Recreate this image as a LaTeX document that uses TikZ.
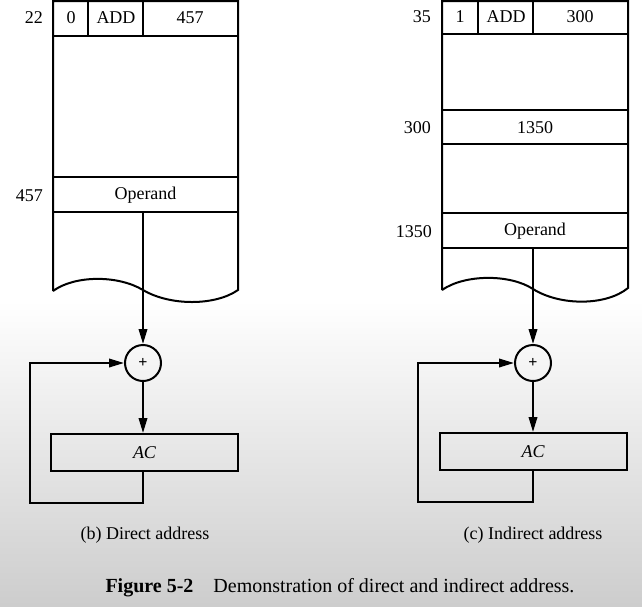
\documentclass[tikz,border=0pt]{standalone}
\usepackage{fontspec}
\setmainfont{Liberation Serif}
\usetikzlibrary{arrows.meta,calc}
\begin{document}
\begin{tikzpicture}[x=1pt,y=-1pt,
  ln/.style={line width=2pt},
  arr/.style={ln,-{Triangle[length=15pt,width=8.5pt]}},
  txt/.style={font=\fontsize{18}{21}\selectfont,inner sep=0pt},
  lbl/.style={font=\fontsize{18}{21}\selectfont,inner sep=0pt,anchor=east},
  sumc/.style={circle,ln,draw,minimum size=36pt,inner sep=0pt,font=\fontsize{16}{16}\selectfont\bfseries},
  acbox/.style={rectangle,ln,draw,minimum width=187pt,minimum height=37pt,inner sep=0pt,font=\fontsize{18}{21}\selectfont\itshape},
  captxt/.style={font=\fontsize{18}{21}\selectfont,inner sep=0pt}
]
\useasboundingbox (0,0) rectangle (642,606);
\fill[white] (0,0) rectangle (642,606);
\shade[top color=white,bottom color={rgb,255:red,205;green,205;blue,205}] (0,300) rectangle (642,606);

% ---------- Left: direct address ----------
\draw[ln] (53,291) -- (53,1) -- (238,1) -- (238,290)
  .. controls (215,306) and (170,306) .. (143,290)
  .. controls (118,275) and (75,275) .. (53,291);
\draw[ln] (53,36) -- (238,36);
\draw[ln] (88,1) -- (88,36);
\draw[ln] (143,1) -- (143,36);
\draw[ln] (53,177) -- (238,177);
\draw[ln] (53,212) -- (238,212);
\node[txt] (la0) at (71,18) {0};
\node[txt] (laadd) at (116,18) {ADD};
\node[txt] (la457) at (190,18) {457};
\node[lbl] (l22) at (43,18) {22};
\node[txt] (lop) at (145.5,195) {Operand};
\node[lbl] (l457) at (43,196) {457};
\coordinate (lopb) at (143,212);
\node[sumc] (lsum) at (143,363) {+};
\node[acbox] (lac) at (144.5,452.5) {AC};
\coordinate (lloop) at (30,503);
\draw[arr] (lopb) -- (lsum.north);
\draw[arr] (lsum.south) -- (lsum.south |- lac.north);
\draw[arr] (lac.south -| lsum) |- (lloop) |- (lsum.west);
\node[captxt] (lcap) at (145,535) {(b) Direct address};

% ---------- Right: indirect address ----------
\draw[ln] (442,290) -- (442,1) -- (628,1) -- (628,288)
  .. controls (606,306) and (560,306) .. (533,289)
  .. controls (510,274) and (465,274) .. (442,290);
\draw[ln] (442,34) -- (628,34);
\draw[ln] (478,1) -- (478,34);
\draw[ln] (533,1) -- (533,34);
\draw[ln] (442,110) -- (628,110);
\draw[ln] (442,144) -- (628,144);
\draw[ln] (442,213) -- (628,213);
\draw[ln] (442,248) -- (628,248);
\node[txt] (r1) at (460,17) {1};
\node[txt] (radd) at (506,17) {ADD};
\node[txt] (r300) at (580,17) {300};
\node[lbl] (r35) at (431,17) {35};
\node[txt] (r1350) at (535,128) {1350};
\node[lbl] (rl300) at (431,128) {300};
\node[txt] (rop) at (535,231) {Operand};
\node[lbl] (rl1350) at (432,232) {1350};
\coordinate (ropb) at (533,248);
\node[sumc] (rsum) at (533,363) {+};
\node[acbox] (rac) at (533,451.5) {AC};
\coordinate (rloop) at (418,502);
\draw[arr] (ropb) -- (rsum.north);
\draw[arr] (rsum.south) -- (rsum.south |- rac.north);
\draw[arr] (rac.south -| rsum) |- (rloop) |- (rsum.west);
\node[captxt] (rcap) at (533,535) {(c) Indirect address};

\node[captxt,font=\fontsize{20}{24}\selectfont] (fig) at (340,588) {\textbf{Figure 5-2}\quad Demonstration of direct and indirect address.};
\end{tikzpicture}
\end{document}
